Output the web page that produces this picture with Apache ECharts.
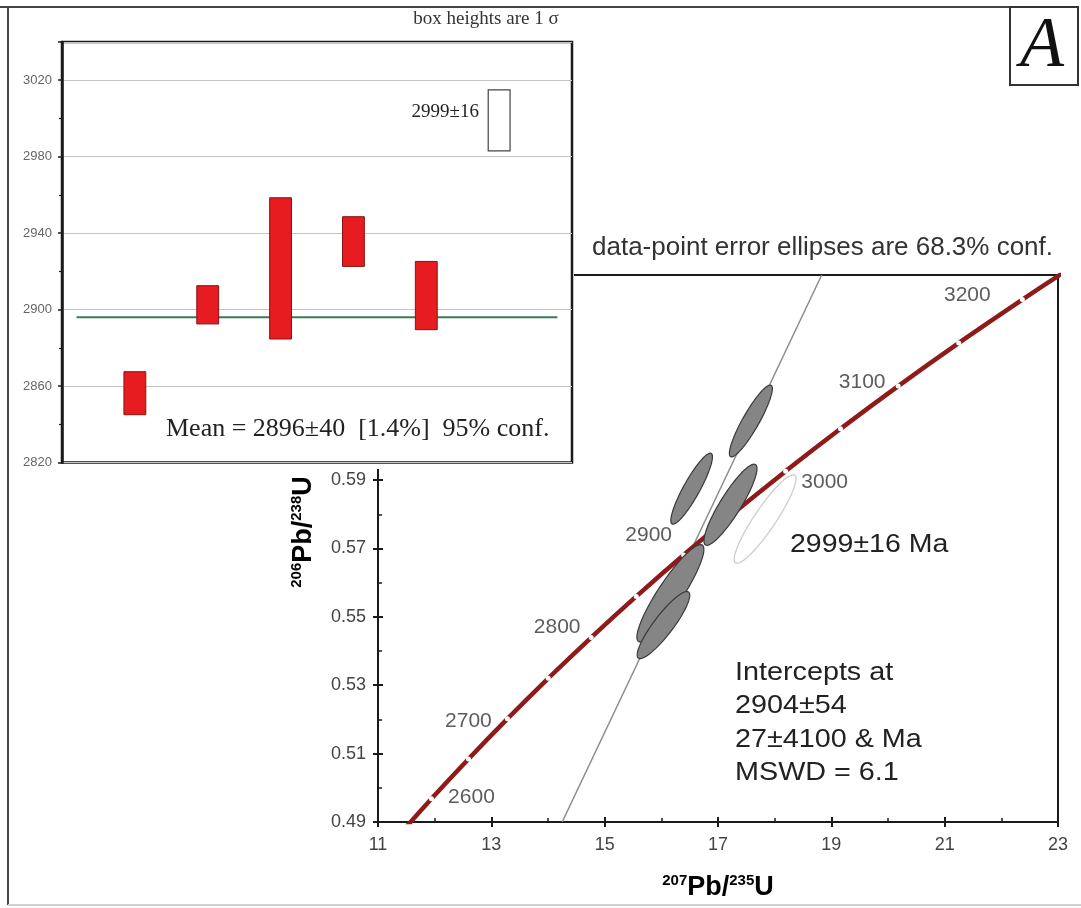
<!DOCTYPE html>
<html><head><meta charset="utf-8">
<script src="https://cdn.jsdelivr.net/npm/echarts@6/dist/echarts.min.js"></script>
<style>
html,body{margin:0;padding:0;background:#fff;}
#main{position:absolute;left:0;top:0;width:1081px;height:908px;}
#inset{position:absolute;left:10px;top:9px;width:564px;height:460px;background:#fff;}
</style></head><body>
<div id="main"></div><div id="inset"></div>
<script>
// ---------------- main concordia diagram data ----------------
const xMin = 11, xMax = 23, xStep = 2;
const yMin = 0.49, yMax = 0.65, yStep = 0.02;
// concordia curve points (age in Ma, 207Pb/235U, 206Pb/238U)
const concAges = [2550, 2600, 2650, 2700, 2750, 2800, 2850, 2900, 2950, 3000, 3050, 3100, 3150, 3200, 3250];
const concX = [11.3218, 11.9437, 12.5971, 13.2835, 14.0043, 14.7616, 15.5572, 16.3935, 17.2713, 18.1935, 19.1618, 20.1793, 21.2483, 22.3712, 23.5506];
const concY = [0.48523, 0.49679, 0.50845, 0.52019, 0.53203, 0.54396, 0.55598, 0.56810, 0.58031, 0.59261, 0.60501, 0.61751, 0.63010, 0.64280, 0.65559];
const concLabelAges = [2600, 2700, 2800, 2900, 3000, 3100, 3200];
// discordia line end points
const discordiaX = [14.25, 18.83];
const discordiaY = [0.49, 0.65];
// error ellipses (centre, half extents, correlation)
const ellX = [17.58, 16.535, 17.22, 16.16, 16.038];
const ellY = [0.6073, 0.5875, 0.5828, 0.5569, 0.5476];
const ellSX = [0.379, 0.367, 0.468, 0.591, 0.464];
const ellSY = [0.01051, 0.01038, 0.01187, 0.01424, 0.0098];
const ellRho = [0.9, 0.895, 0.89, 0.9, 0.89];
// excluded analysis (2999±16)
const exX = [17.83];
const exY = [0.5786];
const exSX = [0.545];
const exSY = [0.01295];
const exRho = [0.91];

// ---------------- inset (weighted mean) data ----------------
const spotIndex = [1, 2, 3, 4, 5];
const spotLow = [2845, 2892.5, 2884.6, 2922.6, 2889.5];
const spotHigh = [2867.5, 2912.5, 2958.5, 2948.6, 2925.2];
const excludedIndex = [6];
const excludedLow = [2983];
const excludedHigh = [3015];
const meanAge = 2896;
const meanSpan = [0.2, 6.8];
const insetYMin = 2820, insetYMax = 3040, insetYStep = 40;

// style constants
const SANS = '"Liberation Sans", Arial, Helvetica, sans-serif';
const SERIF = '"Liberation Serif", "Times New Roman", serif';
const labelOffsets = [[40, -2], [-39, 2], [-34, -10], [-35, -20], [39, 11], [-36, -4], [-55, -4]];
const boxHalfWidth = 0.15;

function ellipseRender(fill, stroke, lw) {
  return function (params, api) {
    const cx = api.value(0), cy = api.value(1), sx = api.value(2), sy = api.value(3), r = api.value(4);
    const s = Math.sqrt(1 - r * r);
    const pts = [];
    for (let i = 0; i < 90; i++) {
      const t = i / 90 * 2 * Math.PI;
      pts.push(api.coord([cx + sx * Math.cos(t), cy + sy * (r * Math.cos(t) + s * Math.sin(t))]));
    }
    return { type: 'polygon', shape: { points: pts }, style: { fill: fill, stroke: stroke, lineWidth: lw } };
  };
}

const axisCol = '#1a1a1a';
const mainChart = echarts.init(document.getElementById('main'));
const nameRich = {
  s: { fontFamily: SANS, fontSize: 15, fontWeight: 'bold', color: '#222', verticalAlign: 'top', lineHeight: 16 },
  b: { fontFamily: SANS, fontSize: 27, fontWeight: 'bold', color: '#222', lineHeight: 30 }
};
const ageLabelData = concLabelAges.map((a, i) => {
  const k = concAges.indexOf(a);
  return { value: [concX[k], concY[k], a], label: { offset: labelOffsets[i] } };
});

mainChart.setOption({
  animation: false,
  grid: { left: 378, top: 275, width: 680, height: 547, show: true, borderColor: axisCol, borderWidth: 2 },
  xAxis: [
    { type: 'value', min: xMin, max: xMax, interval: xStep,
      axisLine: { lineStyle: { color: axisCol, width: 2 } },
      axisTick: { show: true, inside: false, length: 5, lineStyle: { color: axisCol, width: 2 } },
      axisLabel: { fontFamily: SANS, fontSize: 18, color: '#444', margin: 14 },
      splitLine: { show: false } },
    { type: 'value', min: xMin, max: xMax, interval: xStep, position: 'bottom',
      axisLine: { show: false },
      axisTick: { show: true, inside: true, length: 5, lineStyle: { color: axisCol, width: 2 } },
      minorTick: { show: true, splitNumber: 2, length: 4, lineStyle: { color: axisCol, width: 1.5 } },
      axisLabel: { show: false }, splitLine: { show: false }, minorSplitLine: { show: false } }
  ],
  yAxis: [
    { type: 'value', min: yMin, max: yMax, interval: yStep,
      axisLine: { lineStyle: { color: axisCol, width: 2 } },
      axisTick: { show: true, inside: false, length: 5, lineStyle: { color: axisCol, width: 2 } },
      axisLabel: { fontFamily: SANS, fontSize: 18, color: '#444', margin: 12, formatter: v => v.toFixed(2) },
      splitLine: { show: false } },
    { type: 'value', min: yMin, max: yMax, interval: yStep, position: 'left',
      axisLine: { show: false },
      axisTick: { show: true, inside: true, length: 5, lineStyle: { color: axisCol, width: 2 } },
      minorTick: { show: true, splitNumber: 2, length: 4, lineStyle: { color: axisCol, width: 1.5 } },
      axisLabel: { show: false }, splitLine: { show: false }, minorSplitLine: { show: false } }
  ],
  series: [
    { type: 'line', silent: true, z: 1, symbol: 'none',
      data: discordiaX.map((x, i) => [x, discordiaY[i]]),
      lineStyle: { color: '#8c8c8c', width: 1.5 } },
    { type: 'line', silent: true, z: 2, smooth: true, clip: true,
      data: concX.map((x, i) => [x, concY[i]]),
      symbol: 'circle', symbolSize: 5, showAllSymbol: true,
      itemStyle: { color: '#ffffff', borderWidth: 0 },
      lineStyle: { color: '#8e1a1a', width: 4.5 } },
    { type: 'custom', silent: true, z: 3,
      data: ellX.map((x, i) => [x, ellY[i], ellSX[i], ellSY[i], ellRho[i]]),
      encode: { x: 0, y: 1 },
      renderItem: ellipseRender('#858585', '#3a3a3a', 1.2) },
    { type: 'custom', silent: true, z: 3,
      data: exX.map((x, i) => [x, exY[i], exSX[i], exSY[i], exRho[i]]),
      encode: { x: 0, y: 1 },
      renderItem: ellipseRender('none', '#cdcdcd', 1.3) },
    { type: 'scatter', silent: true, z: 4, symbolSize: 1,
      itemStyle: { color: 'rgba(0,0,0,0)' },
      data: ageLabelData,
      label: { show: true, position: 'inside', formatter: p => String(p.value[2]),
        fontFamily: SANS, fontSize: 21, color: '#333', align: 'center', verticalAlign: 'middle' } }
  ],
  graphic: [
    { type: 'line', shape: { x1: 8, y1: 7, x2: 8, y2: 905 }, style: { stroke: '#444', lineWidth: 2 }, z: 50 },
    { type: 'line', shape: { x1: 0, y1: 7, x2: 1010, y2: 7 }, style: { stroke: '#444', lineWidth: 2 }, z: 50 },
    { type: 'line', shape: { x1: 8, y1: 905, x2: 1081, y2: 905 }, style: { stroke: '#d0d0d0', lineWidth: 2 }, z: 50 },
    { type: 'rect', shape: { x: 1010, y: 7, width: 68, height: 78 }, style: { fill: '#fff', stroke: '#333', lineWidth: 2 }, z: 50 },
    { type: 'text', x: 1042, y: 47, z: 51, style: { text: 'A', fontFamily: SERIF, fontStyle: 'italic', fontSize: 72, fill: '#111', align: 'center', verticalAlign: 'middle' } },
    { type: 'text', x: 592, y: 248, z: 51, style: { text: 'data-point error ellipses are 68.3% conf.', fontFamily: SANS, fontSize: 26, fill: '#333', align: 'left', verticalAlign: 'middle' } },
    { type: 'text', x: 790, y: 545, z: 51, scaleX: 1.14, style: { text: '2999±16 Ma', fontFamily: SANS, fontSize: 25, fill: '#222', align: 'left', verticalAlign: 'middle' } },
    { type: 'text', x: 735, y: 656, z: 51, scaleX: 1.15, style: { text: 'Intercepts at\n2904±54\n27±4100 & Ma\nMSWD = 6.1', fontFamily: SANS, fontSize: 25, lineHeight: 33.5, fill: '#222', align: 'left', verticalAlign: 'top' } },
    { type: 'text', x: 718, y: 888, z: 51, style: { text: '{s|207}{b|Pb/}{s|235}{b|U}', rich: nameRich, align: 'center', verticalAlign: 'middle' } },
    { type: 'text', x: 304, y: 532, z: 51, rotation: Math.PI / 2, style: { text: '{s|206}{b|Pb/}{s|238}{b|U}', rich: nameRich, align: 'center', verticalAlign: 'middle' } }
  ]
});

// ---------------- inset chart ----------------
const insetChart = echarts.init(document.getElementById('inset'));
insetChart.setOption({
  animation: false,
  grid: { left: 52, top: 33, width: 510, height: 424, show: true, borderColor: axisCol, borderWidth: 2.5 },
  xAxis: { type: 'value', min: 0, max: 7, show: false },
  yAxis: { type: 'value', min: insetYMin, max: insetYMax, interval: insetYStep,
    axisLine: { show: true, lineStyle: { color: axisCol, width: 2.5 } },
    axisTick: { show: true, length: 4, lineStyle: { color: axisCol, width: 1.5 } },
    minorTick: { show: true, splitNumber: 2, length: 3, lineStyle: { color: axisCol, width: 1.2 } },
    axisLabel: { fontFamily: SANS, fontSize: 13, color: '#666', margin: 10, formatter: v => (v >= insetYMax ? '' : String(v)) },
    splitLine: { show: true, lineStyle: { color: '#c4c4c4', width: 1.2 } } },
  series: [
    { type: 'line', silent: true, z: 2, symbol: 'none',
      data: meanSpan.map(x => [x, meanAge]),
      lineStyle: { color: '#3b7a55', width: 2.2 } },
    { type: 'custom', silent: true, z: 3,
      data: spotIndex.map((x, i) => [x, spotLow[i], spotHigh[i]]),
      encode: { x: 0, y: [1, 2] },
      renderItem: (params, api) => {
        const x = api.value(0), lo = api.value(1), hi = api.value(2);
        const a = api.coord([x - boxHalfWidth, hi]), b = api.coord([x + boxHalfWidth, lo]);
        return { type: 'rect', shape: { x: a[0], y: a[1], width: b[0] - a[0], height: b[1] - a[1] }, style: { fill: '#e61c20', stroke: '#8a1212', lineWidth: 1 } };
      } },
    { type: 'custom', silent: true, z: 3,
      data: excludedIndex.map((x, i) => [x, excludedLow[i], excludedHigh[i]]),
      encode: { x: 0, y: [1, 2] },
      renderItem: (params, api) => {
        const x = api.value(0), lo = api.value(1), hi = api.value(2);
        const a = api.coord([x - boxHalfWidth, hi]), b = api.coord([x + boxHalfWidth, lo]);
        return { type: 'rect', shape: { x: a[0], y: a[1], width: b[0] - a[0], height: b[1] - a[1] }, style: { fill: '#fff', stroke: '#444', lineWidth: 1.2 } };
      } }
  ],
  graphic: [
    { type: 'text', x: 476, y: 10, style: { text: 'box heights are 1 σ', fontFamily: SERIF, fontSize: 19, fill: '#333', align: 'center', verticalAlign: 'middle' } },
    { type: 'text', x: 469, y: 103, style: { text: '2999±16', fontFamily: SERIF, fontSize: 19, fill: '#222', align: 'right', verticalAlign: 'middle' } },
    { type: 'text', x: 156, y: 420, style: { text: 'Mean = 2896±40  [1.4%]  95% conf.', fontFamily: SERIF, fontSize: 26, fill: '#222', align: 'left', verticalAlign: 'middle' } }
  ]
});
</script>
</body></html>
